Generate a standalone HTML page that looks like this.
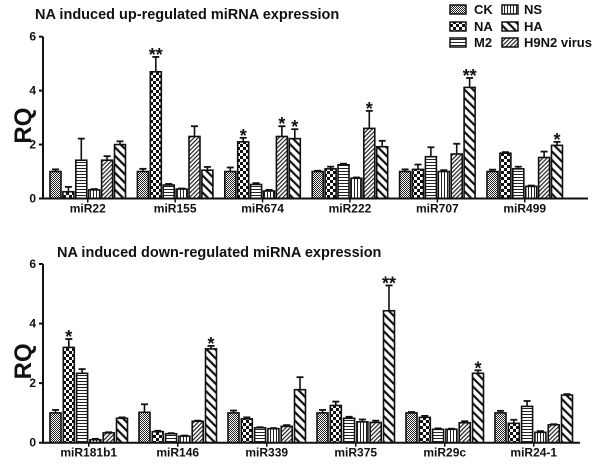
<!DOCTYPE html>
<html><head><meta charset="utf-8"><style>
html,body{margin:0;padding:0;background:#fff;width:600px;height:464px;overflow:hidden}
svg{display:block}
text{font-family:"Liberation Sans",Arial,sans-serif;font-weight:bold;fill:#111}
</style></head><body>
<svg id="chart" width="600" height="464" viewBox="0 0 600 464">
<defs>
<pattern id="pCK" width="2" height="2" patternUnits="userSpaceOnUse"><rect width="2" height="2" fill="#fff"/><rect width="1" height="1" fill="#222"/><rect x="1" y="1" width="1" height="1" fill="#222"/></pattern>
<pattern id="pNA" width="6" height="6" patternUnits="userSpaceOnUse"><rect width="6" height="6" fill="#fff"/><rect width="3" height="3" fill="#111"/><rect x="3" y="3" width="3" height="3" fill="#111"/></pattern>
<pattern id="pM2" width="4" height="3" patternUnits="userSpaceOnUse"><rect width="4" height="3" fill="#fff"/><rect width="4" height="1" fill="#222"/></pattern>
<pattern id="pNS" width="3" height="4" patternUnits="userSpaceOnUse"><rect width="3" height="4" fill="#fff"/><rect width="1" height="4" fill="#222"/></pattern>
<pattern id="pH9" width="3" height="3" patternUnits="userSpaceOnUse" patternTransform="rotate(45)"><rect width="3" height="3" fill="#fff"/><rect width="1.2" height="3" fill="#222"/></pattern>
<pattern id="pHA" width="6" height="6" patternUnits="userSpaceOnUse" patternTransform="rotate(-45)"><rect width="6" height="6" fill="#fff"/><rect width="2.2" height="6" fill="#111"/></pattern>
</defs>
<text x="35" y="19" font-size="14.5">NA induced up-regulated miRNA expression</text>
<text x="57" y="257" font-size="14.5">NA induced down-regulated miRNA expression</text>
<g>
<g><rect x="450" y="5" width="16" height="9" fill="url(#pCK)" stroke="#111" stroke-width="1.5"/><text x="474" y="14" font-size="13">CK</text></g>
<g><rect x="450" y="22" width="16" height="9" fill="url(#pNA)" stroke="#111" stroke-width="1.5"/><text x="474" y="31" font-size="13">NA</text></g>
<g><rect x="450" y="38" width="16" height="9" fill="url(#pM2)" stroke="#111" stroke-width="1.5"/><text x="474" y="47" font-size="13">M2</text></g>
<g><rect x="502" y="5" width="16" height="9" fill="url(#pNS)" stroke="#111" stroke-width="1.5"/><text x="524" y="14" font-size="13">NS</text></g>
<g><rect x="502" y="22" width="16" height="9" fill="url(#pHA)" stroke="#111" stroke-width="1.5"/><text x="524" y="31" font-size="13">HA</text></g>
<g><rect x="502" y="38" width="16" height="9" fill="url(#pH9)" stroke="#111" stroke-width="1.5"/><text x="524" y="47" font-size="13">H9N2 virus</text></g>
</g>
</svg>
<script>
const topCats=["miR22","miR155","miR674","miR222","miR707","miR499"];
const topVals=[[1.0,0.25,1.42,0.32,1.42,2.0],[1.0,4.7,0.5,0.35,2.3,1.05],[1.0,2.1,0.52,0.28,2.3,2.22],[1.0,1.1,1.25,0.75,2.6,1.92],[1.0,1.08,1.55,1.0,1.65,4.12],[1.0,1.68,1.1,0.45,1.52,1.97]];
const topErr=[[0.08,0.18,0.8,0.03,0.15,0.12],[0.1,0.55,0.04,0.02,0.38,0.12],[0.15,0.15,0.05,0.04,0.38,0.35],[0.03,0.08,0.04,0.03,0.65,0.22],[0.08,0.18,0.35,0.05,0.38,0.35],[0.07,0.04,0.08,0.03,0.22,0.13]];
const topStars=[["","","","","",""],["","**","","","",""],["","*","","","*","*"],["","","","","*",""],["","","","","","**"],["","","","","","*"]];
const botCats=["miR181b1","miR146","miR339","miR375","miR29c","miR24-1"];
const botVals=[[1.0,3.2,2.33,0.1,0.33,0.82],[1.02,0.37,0.3,0.22,0.72,3.15],[1.0,0.8,0.5,0.47,0.55,1.78],[1.0,1.25,0.82,0.7,0.68,4.43],[1.0,0.85,0.45,0.45,0.67,2.33],[1.0,0.65,1.22,0.35,0.6,1.6]];
const botErr=[[0.1,0.28,0.14,0.03,0.02,0.03],[0.27,0.03,0.02,0.02,0.02,0.1],[0.08,0.05,0.02,0.02,0.04,0.42],[0.1,0.13,0.05,0.08,0.06,0.85],[0.03,0.05,0.03,0.02,0.05,0.1],[0.07,0.12,0.18,0.04,0.02,0.03]];
const botStars=[["","*","","","",""],["","","","","","*"],["","","","","",""],["","","","","","**"],["","","","","","*"],["","","","","",""]];
const seriesNames=["CK","NA","M2","NS","H9N2 virus","HA"];
const yTicks=[0,2,4,6];
const fills=["url(#pCK)","url(#pNA)","url(#pM2)","url(#pNS)","url(#pH9)","url(#pHA)"];
const NS="http://www.w3.org/2000/svg";
const svg=document.getElementById('chart');
function mk(tag,attrs,parent){const e=document.createElementNS(NS,tag);for(const k in attrs)e.setAttribute(k,attrs[k]);(parent||svg).appendChild(e);return e;}
function drawChart(cfg){
  const g=mk('g',{});
  
  
  const y=v=>cfg.y0-(v/6)*(cfg.y0-cfg.y6);
  const gx=i=>50+i*cfg.gp;
  const bx=(i,j)=>gx(i)+j*cfg.bp;
  cfg.vals.forEach((grp,i)=>grp.forEach((v,j)=>{
    const e=cfg.err[i][j];
    const cx=bx(i,j)+5.5;
    const el=mk('line',{x1:cx,x2:cx,y1:y(v),y2:y(v+e),stroke:'#111','stroke-width':1.6},g);
    
    
    const cap=mk('line',{x1:cx-3.5,x2:cx+3.5,y1:y(v+e),y2:y(v+e),stroke:'#111','stroke-width':1.8},g);
    
    
    const r=mk('rect',{x:bx(i,j),y:y(v),width:11,height:y(0)-y(v),fill:fills[j],stroke:'#111','stroke-width':1.6},g);
    
    
    const s=cfg.stars[i][j];
    if(s){const t=mk('text',{x:cx,y:y(v+e)+4,'font-size':18,'font-weight':'normal','text-anchor':'middle'},g);t.textContent=s;
      
      }
  }));
  const ya=mk('line',{x1:43,x2:43,y1:cfg.y6,y2:cfg.y0+1,stroke:'#111','stroke-width':2},g);
  
  
  const xa=mk('line',{x1:42,x2:cfg.xEnd,y1:cfg.y0,y2:cfg.y0,stroke:'#111','stroke-width':2},g);
  
  
  yTicks.forEach(t=>{
    mk('line',{x1:39,x2:43,y1:y(t),y2:y(t),stroke:'#111','stroke-width':2},g);
    const tl=mk('text',{x:36,y:y(t)+4,'font-size':12,'text-anchor':'end'},g);tl.textContent=t;
    
    
  });
  cfg.cats.forEach((c,i)=>{
    const cx=gx(i)+(5*cfg.bp+11)/2;
    mk('line',{x1:cx,x2:cx,y1:cfg.y0,y2:cfg.y0+4,stroke:'#111','stroke-width':1.5},g);
    const tl=mk('text',{x:cx,y:cfg.y0+14,'font-size':12,'text-anchor':'middle'},g);tl.textContent=c;
    
    
  });
  const rq=mk('text',{x:0,y:0,'font-size':24,'text-anchor':'middle',transform:'translate(31,'+((cfg.y0+cfg.y6)/2+8)+') rotate(-90)'},g);
  rq.textContent='RQ';
  
  
}
drawChart({name:'up-regulated-chart',cats:topCats,vals:topVals,err:topErr,stars:topStars,y0:198.5,y6:36.7,gp:87.4,bp:12.9,xEnd:588});
drawChart({name:'down-regulated-chart',cats:botCats,vals:botVals,err:botErr,stars:botStars,y0:442.7,y6:264,gp:89,bp:13.3,xEnd:580});
</script>
</body></html>
